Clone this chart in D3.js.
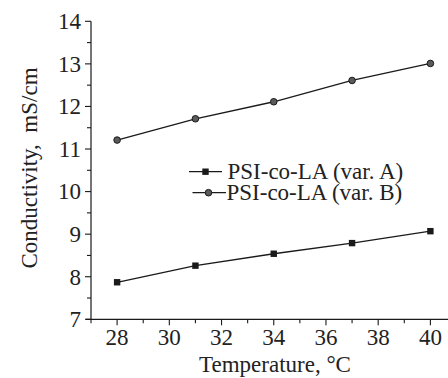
<!DOCTYPE html>
<html>
<head>
<meta charset="utf-8">
<script src="https://cdn.jsdelivr.net/npm/d3@7"></script>
<style>
  html, body { margin: 0; padding: 0; background: #fff; }
  svg { display: block; }
  text { font-family: "Liberation Serif", "Times New Roman", serif; fill: #222; }
</style>
</head>
<body>
<svg id="chart" width="448" height="378"></svg>
<script>
// Conductivity vs temperature for two PSI-co-LA variants
const temperatures = [28, 31, 34, 37, 40];
const varA = [7.87, 8.26, 8.54, 8.79, 9.07];
const varB = [11.21, 11.71, 12.11, 12.61, 13.01];
const seriesNames = ["PSI-co-LA (var. A)", "PSI-co-LA (var. B)"];
const xTicks = [28, 30, 32, 34, 36, 38, 40];
const yTicks = [7, 8, 9, 10, 11, 12, 13, 14];

const svg = d3.select("#chart");
const x = d3.scaleLinear().domain([27, 41]).range([91, 456.5]);
const y = d3.scaleLinear().domain([7, 14]).range([319.3, 21.3]);

const ink = "#1a1a1a";

// X axis: major ticks at even degrees, minor at odd
const xAxis = svg.append("g").attr("transform", `translate(0,${y(7)})`);
xAxis.append("line").attr("x1", 86).attr("x2", 448).attr("stroke", ink).attr("stroke-width", 1.2);
xAxis.selectAll(".major").data(xTicks).join("line")
  .attr("x1", d => x(d)).attr("x2", d => x(d)).attr("y1", 0).attr("y2", 6)
  .attr("stroke", ink).attr("stroke-width", 1.1);
xAxis.selectAll(".minor").data(d3.range(27, 42, 2)).join("line")
  .attr("x1", d => x(d)).attr("x2", d => x(d)).attr("y1", 0).attr("y2", 4)
  .attr("stroke", ink).attr("stroke-width", 1.1);
xAxis.selectAll("text").data(xTicks).join("text")
  .attr("x", d => x(d)).attr("y", 26).attr("text-anchor", "middle")
  .attr("font-size", 23).text(d => d);

// Y axis: major ticks at integers, minor at halves
const yAxis = svg.append("g").attr("transform", `translate(${x(27)},0)`);
yAxis.append("line").attr("y1", y(14)).attr("y2", y(7)).attr("stroke", ink).attr("stroke-width", 1.2);
yAxis.selectAll(".major").data(yTicks).join("line")
  .attr("x1", 0).attr("x2", -6).attr("y1", d => y(d)).attr("y2", d => y(d))
  .attr("stroke", ink).attr("stroke-width", 1.1);
yAxis.selectAll(".minor").data(d3.range(7.5, 14, 1)).join("line")
  .attr("x1", 0).attr("x2", -4).attr("y1", d => y(d)).attr("y2", d => y(d))
  .attr("stroke", ink).attr("stroke-width", 1.1);
yAxis.selectAll("text").data(yTicks).join("text")
  .attr("x", -10).attr("y", d => y(d) + 7.8).attr("text-anchor", "end")
  .attr("font-size", 23).text(d => d);

// Axis titles
svg.append("text").attr("x", 275).attr("y", 372).attr("text-anchor", "middle")
  .attr("font-size", 23).text("Temperature, °C");
svg.append("text").attr("transform", "translate(37,168) rotate(-90)")
  .attr("text-anchor", "middle").attr("font-size", 23)
  .attr("xml:space", "preserve").text("Conductivity,  mS/cm");

// Series
const line = d3.line().x(d => x(d[0])).y(d => y(d[1]));
const ptsA = temperatures.map((t, i) => [t, varA[i]]);
const ptsB = temperatures.map((t, i) => [t, varB[i]]);

svg.append("path").datum(ptsA).attr("d", line).attr("fill", "none").attr("stroke", ink).attr("stroke-width", 1.3);
svg.append("path").datum(ptsB).attr("d", line).attr("fill", "none").attr("stroke", ink).attr("stroke-width", 1.3);

svg.selectAll(".sqA").data(ptsA).join("rect")
  .attr("x", d => x(d[0]) - 3.2).attr("y", d => y(d[1]) - 3.2)
  .attr("width", 6.4).attr("height", 6.4).attr("fill", ink);
svg.selectAll(".cirB").data(ptsB).join("circle")
  .attr("cx", d => x(d[0])).attr("cy", d => y(d[1])).attr("r", 3.3)
  .attr("fill", "#5a5a5a").attr("stroke", ink).attr("stroke-width", 1);

// Legend
const legend = svg.append("g");
const rowsY = [171.7, 192.7];
const lg = legend.selectAll("g").data(seriesNames).join("g")
  .attr("transform", (d, i) => `translate(0,${rowsY[i]})`);
lg.append("line").attr("x1", (d, i) => i ? 192.5 : 189).attr("x2", (d, i) => i ? 226 : 222)
  .attr("stroke", ink).attr("stroke-width", 1.3);
lg.filter((d, i) => i === 0).append("rect")
  .attr("x", 205.5 - 3.2).attr("y", -3.2).attr("width", 6.4).attr("height", 6.4).attr("fill", ink);
lg.filter((d, i) => i === 1).append("circle")
  .attr("cx", 208.5).attr("cy", 0).attr("r", 3.3)
  .attr("fill", "#5a5a5a").attr("stroke", ink).attr("stroke-width", 1);
lg.append("text").attr("x", (d, i) => i ? 226.5 : 227.5).attr("y", 7)
  .attr("font-size", 23).text(d => d);
</script>
</body>
</html>
